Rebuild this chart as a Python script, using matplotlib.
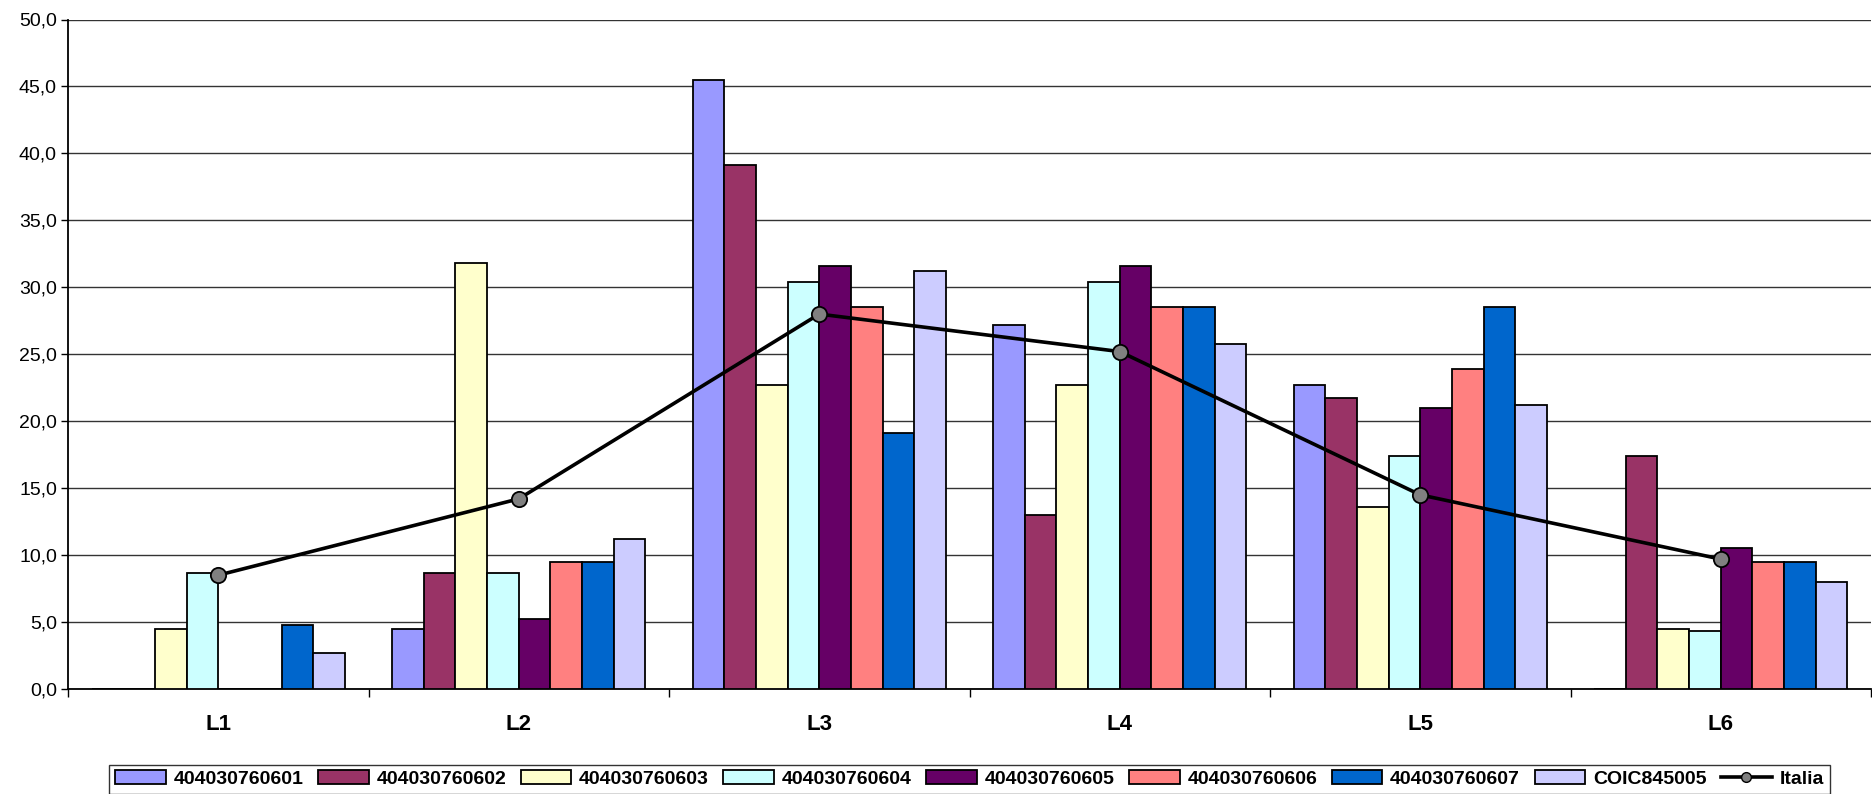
import matplotlib
matplotlib.use("Agg")
import matplotlib.pyplot as plt
import numpy as np
from matplotlib.lines import Line2D
from matplotlib.patches import Patch

categories = ["L1", "L2", "L3", "L4", "L5", "L6"]
series_names = ["404030760601", "404030760602", "404030760603", "404030760604",
                "404030760605", "404030760606", "404030760607", "COIC845005"]
s601 = [0.0, 4.5, 45.5, 27.2, 22.7, 0.0]
s602 = [0.0, 8.7, 39.1, 13.0, 21.7, 17.4]
s603 = [4.5, 31.8, 22.7, 22.7, 13.6, 4.5]
s604 = [8.7, 8.7, 30.4, 30.4, 17.4, 4.3]
s605 = [0.0, 5.2, 31.6, 31.6, 21.0, 10.5]
s606 = [0.0, 9.5, 28.5, 28.5, 23.9, 9.5]
s607 = [4.8, 9.5, 19.1, 28.5, 28.5, 9.5]
coic = [2.7, 11.2, 31.2, 25.8, 21.2, 8.0]
italia = [8.5, 14.2, 28.0, 25.2, 14.5, 9.7]
yticks = [0, 5, 10, 15, 20, 25, 30, 35, 40, 45, 50]

series = [s601, s602, s603, s604, s605, s606, s607, coic]
colors = ["#9999FF", "#993366", "#FFFFCC", "#CCFFFF",
          "#660066", "#FF8080", "#0066CC", "#CCCCFF"]

plt.rcParams["font.family"] = ["Liberation Sans", "DejaVu Sans"]

W, H = 1872, 794
fig = plt.figure(figsize=(W / 100, H / 100), dpi=100)
ax = fig.add_axes([68 / W, 1 - 689 / H, (1871 - 68) / W, (689 - 19.5) / H])

x = np.arange(len(categories))
bw = 1 / 9.5
for j, (vals, c) in enumerate(zip(series, colors)):
    ax.bar(x + (j - 3.5) * bw, vals, width=bw, color=c, edgecolor="black",
           linewidth=1.3, zorder=3)

ax.plot(x, italia, color="black", linewidth=2.6, marker="o", markersize=11,
        markerfacecolor="#808080", markeredgecolor="black", markeredgewidth=1.3,
        zorder=5)

ax.set_xlim(-0.5, len(categories) - 0.5)
ax.set_ylim(0, 50)
ax.set_yticks(yticks)
ax.set_yticklabels([f"{v:.1f}".replace(".", ",") for v in yticks], fontsize=14)
ax.yaxis.grid(True, color="#333333", linewidth=1.0, zorder=0)
ax.set_axisbelow(True)

ax.set_xticks(x)
ax.set_xticklabels(categories, fontsize=16, fontweight="bold")
ax.tick_params(axis="x", which="major", length=0, pad=18)
ax.set_xticks(np.arange(-0.5, len(categories) + 0.5, 1), minor=True)
ax.tick_params(axis="x", which="minor", length=6, width=1, color="black")
ax.tick_params(axis="y", length=5, width=1, pad=3)

for s in ["top", "right"]:
    ax.spines[s].set_visible(False)
ax.spines["left"].set_linewidth(1.3)
ax.spines["bottom"].set_linewidth(1.3)

handles = [Patch(facecolor=c, edgecolor="black", linewidth=1.3) for c in colors]
handles.append(Line2D([0], [0], color="black", linewidth=2.6, marker="o",
                      markersize=7, markerfacecolor="#808080",
                      markeredgecolor="black"))
labels = series_names + ["Italia"]
leg = ax.legend(handles, labels, loc="upper center", bbox_to_anchor=(0.5, -0.113),
                ncol=9, frameon=True, fancybox=False, edgecolor="black",
                prop={"weight": "bold", "size": 14}, handlelength=2.6,
                handleheight=0.7, handletextpad=0.4, columnspacing=0.75,
                borderpad=0.3, borderaxespad=0)
leg.get_frame().set_linewidth(1.0)

fig.savefig("out.png", dpi=100)
